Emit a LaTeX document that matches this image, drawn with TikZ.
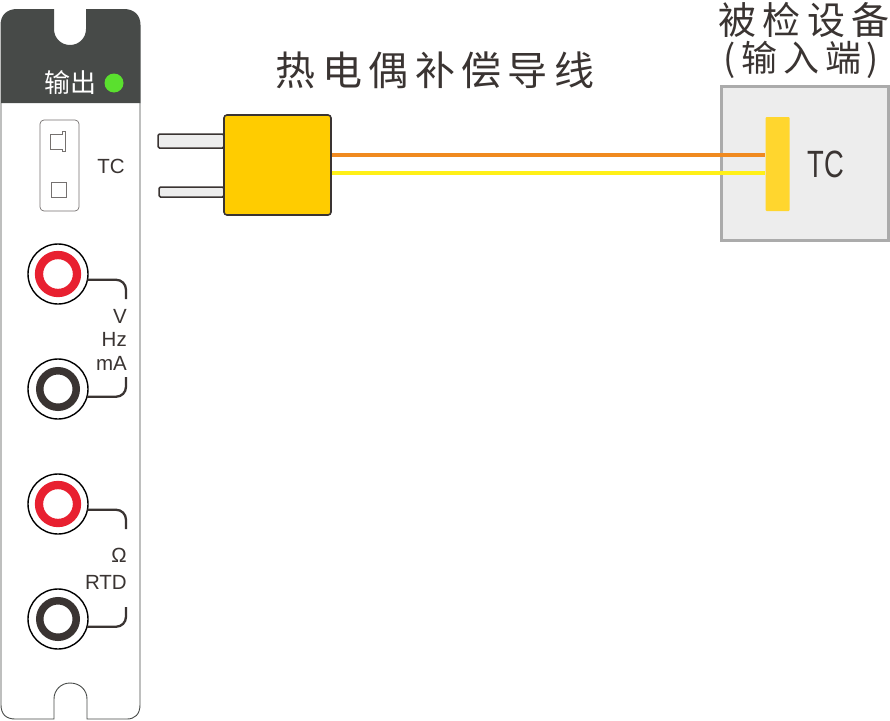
\documentclass[tikz,border=0pt]{standalone}
\usepackage{fontspec}
\setmainfont{Liberation Sans}
\newfontfamily\cjk{Noto Sans CJK SC}
\newfontfamily\cjkwide[LetterSpace=16]{Noto Sans CJK SC}
\usetikzlibrary{positioning}
\definecolor{panelgray}{RGB}{71,74,72}
\definecolor{inkdark}{RGB}{58,52,50}
\definecolor{socketred}{RGB}{232,32,48}
\definecolor{ledgreen}{RGB}{90,224,46}
\definecolor{plugyellow}{RGB}{255,204,0}
\definecolor{baryellow}{RGB}{255,214,46}
\definecolor{wireorange}{RGB}{240,138,32}
\definecolor{wireyellow}{RGB}{255,240,24}
\definecolor{boxgray}{RGB}{237,237,237}
\tikzset{
	socketouter/.style={circle, draw=black, fill=white, line width=1.4pt, minimum size=60pt, inner sep=0pt, outer sep=0pt},
	redring/.style={circle, draw=socketred, fill=white, line width=8.3pt, minimum size=38pt, inner sep=0pt, outer sep=0pt},
	blackring/.style={circle, draw=inkdark, fill=white, line width=7.5pt, minimum size=36.5pt, inner sep=0pt, outer sep=0pt},
	leadline/.style={draw=inkdark, line width=2.3pt, rounded corners=10pt},
	pinbox/.style={draw=inkdark, fill=boxgray, line width=1.5pt, rounded corners=1.5pt, inner sep=0pt},
	panellabel/.style={text=inkdark, font=\fontsize{20.5}{20.5}\selectfont, inner sep=0pt},
	titlelabel/.style={text=inkdark, font=\fontsize{38}{38}\selectfont\cjkwide, inner sep=0pt},
}

\begin{document}
\begin{tikzpicture}[x=1pt, y=-1pt]
	\useasboundingbox (0,0) rectangle (890,720);

	% Panel outline
	\draw[fill=white, draw=panelgray, line width=0.9pt] (1,103) -- (1,705) .. controls (1,714) and (6,719) .. (15,719) -- (54,719) -- (54,699)
		.. controls (54,690) and (61,683) .. (70,683) .. controls (80,683) and (87,690) .. (87,699) -- (87,719) -- (127,719)
		.. controls (135,719) and (140,714) .. (140,705) -- (140,103);

	% Header
	\fill[panelgray] (0.5,103) -- (0.5,25) .. controls (0.5,15) and (7,9) .. (17,9) -- (54,9) -- (54,29)
		.. controls (54,38) and (61,45) .. (70,45) .. controls (79,45) and (86,38) .. (86,29) -- (86,9) -- (124,9)
		.. controls (134,9) and (140.5,15) .. (140.5,25) -- (140.5,103) -- cycle;
	\node[text=white, font=\fontsize{26}{26}\selectfont\cjk, inner sep=0pt] (outlabel) at (70.5,83) {输出};
	\node[circle, fill=ledgreen, minimum size=19pt, inner sep=0pt] (led) at (114,83) {};

	% TC slot
	\node[draw=inkdark!70, fill=white, line width=0.7pt, rounded corners=4pt, minimum width=39pt, minimum height=91pt, inner sep=0pt] (slot) at (59.5,165.5) {};
	\draw[inkdark!70, line width=0.8pt] (50.5,134) -- (62,134) -- (62,131.5) -- (65.5,131.5) -- (65.5,151.5) -- (62,151.5) -- (62,149) -- (50.5,149) -- cycle;
	\node[draw=inkdark!70, line width=0.8pt, minimum size=15pt, inner sep=0pt] (slotsquare) at (58.5,190) {};
	\node[panellabel] (tclabel) at (111,166) {TC};

	% Sockets
	\node[socketouter] (sockA) at (58,274) {};
	\node[redring] (ringA) at (sockA.center) {};
	\node[socketouter] (sockB) at (58,389) {};
	\node[blackring] (ringB) at (sockB.center) {};
	\node[socketouter] (sockC) at (58,504) {};
	\node[redring] (ringC) at (sockC.center) {};
	\node[socketouter] (sockD) at (58,619) {};
	\node[blackring] (ringD) at (sockD.center) {};

	% Leads
	\coordinate (leadA) at (126,299);
	\coordinate (leadB) at (126,377);
	\coordinate (leadC) at (126,529);
	\coordinate (leadD) at (126,607);
	\draw[leadline] (sockA.-11) -| (leadA);
	\draw[leadline] (sockB.-15) -| (leadB);
	\draw[leadline] (sockC.-11) -| (leadC);
	\draw[leadline] (sockD.-15) -| (leadD);

	% Labels
	\node[panellabel, anchor=east] (vlabel) at (127,316) {V};
	\node[panellabel, anchor=east] (hzlabel) at (127,339) {Hz};
	\node[panellabel, anchor=east] (malabel) at (127,363) {mA};
	\node[panellabel, anchor=east] (ohmlabel) at (127,555) {Ω};
	\node[panellabel, anchor=east] (rtdlabel) at (127,582) {RTD};

	% Plug
	\node[pinbox, minimum width=66pt, minimum height=14pt] (pinA) at (191,141) {};
	\node[pinbox, minimum width=65pt, minimum height=10pt] (pinB) at (191.5,192) {};
	\node[draw=inkdark, fill=plugyellow, line width=1.6pt, rounded corners=3pt, minimum width=107pt, minimum height=100pt, inner sep=0pt] (plug) at (277.5,165) {};

	% Device
	\node[draw=black!33, fill=boxgray, line width=2.4pt, minimum width=167pt, minimum height=154pt, inner sep=0pt] (device) at (805,163.5) {};
	\node[fill=baryellow, rounded corners=1pt, minimum width=24pt, minimum height=94pt, inner sep=0pt] (bar) at (777.5,164) {};
	\node[text=inkdark, font=\fontsize{38}{38}\selectfont, xscale=0.72, transform shape, inner sep=0pt] (devlabel) at (826,164) {TC};

	% Wires
	\coordinate (orangeL) at (plug.east |- 0,155);
	\coordinate (orangeR) at (bar.west |- 0,155);
	\coordinate (yellowL) at (plug.east |- 0,173);
	\coordinate (yellowR) at (bar.west |- 0,173);
	\draw[wireorange, line width=4.7pt] (orangeL) -- (orangeR);
	\draw[wireyellow, line width=4.7pt] (yellowL) -- (yellowR);

	% Titles
	\node[titlelabel, font=\fontsize{40}{40}\selectfont\cjkwide] (cablelabel) at (435,70) {热电偶补偿导线};
	\node[titlelabel] (devtitle) at (804,20) {被检设备};
	\node[titlelabel, font=\fontsize{36}{36}\selectfont\cjkwide] (devsub) at (801.5,60) {(输入端)};
\end{tikzpicture}
\end{document}
